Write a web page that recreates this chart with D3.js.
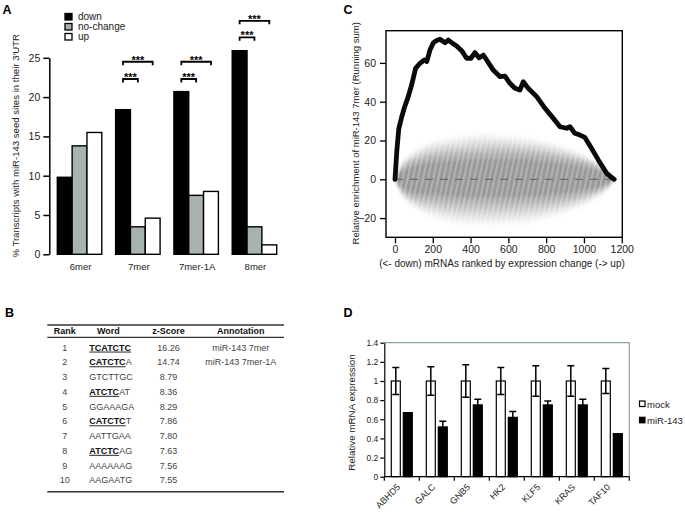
<!DOCTYPE html>
<html><head><meta charset="utf-8">
<script src="https://cdn.jsdelivr.net/npm/d3@7"></script>
<style>body{margin:0;background:#fff}svg{display:block;font-family:"Liberation Sans",Arial,sans-serif}</style>
</head><body><svg id="c" width="685" height="517"></svg>
<script>
// ---------- Panel A data ----------
const aCategories = ["6mer", "7mer", "7mer-1A", "8mer"];
const aSeries = ["down", "no-change", "up"];
const aDown = [9.8, 18.4, 20.7, 25.9];
const aNoChange = [13.8, 3.5, 7.5, 3.5];
const aUp = [15.5, 4.6, 8.0, 1.2];
const aTicks = [0, 5, 10, 15, 20, 25];
const aSigCats = ["7mer", "7mer", "7mer-1A", "7mer-1A", "8mer", "8mer"];
const aSigTo = ["no-change", "up", "no-change", "up", "no-change", "up"];
const aSigLevel = [22.3, 24.5, 22.3, 24.5, 27.6, 29.7];
const aSigText = ["***", "***", "***", "***", "***", "***"];

// ---------- Panel B data ----------
const bHeaders = ["Rank", "Word", "z-Score", "Annotation"];
const bRanks = ["1", "2", "3", "4", "5", "6", "7", "8", "9", "10"];
const bWords = ["TCATCTC", "CATCTCA", "GTCTTGC", "ATCTCAT", "GGAAAGA", "CATCTCT", "AATTGAA", "ATCTCAG", "AAAAAAG", "AAGAATG"];
const bSeedLen = [7, 6, 0, 5, 0, 6, 0, 5, 0, 0];
const bZScores = ["16.26", "14.74", "8.79", "8.36", "8.29", "7.86", "7.80", "7.63", "7.56", "7.55"];
const bAnnotations = ["miR-143 7mer", "miR-143 7mer-1A", "", "", "", "", "", "", "", ""];

// ---------- Panel C data ----------
const cRank = [0, 10, 20, 35, 50, 70, 88, 109, 132, 155, 168, 185, 203, 220, 238, 265, 282, 300, 326, 353, 379, 402, 423, 446, 467, 485, 520, 556, 582, 608, 635, 661, 679, 705, 750, 794, 838, 873, 908, 926, 952, 979, 1005, 1040, 1076, 1120, 1160];
const cRunSum = [0, 15, 26, 32, 37, 42.6, 48.6, 57.2, 59.8, 61.5, 60.7, 66.6, 70.4, 71.5, 72.2, 70.4, 71.8, 70.4, 68.7, 66.3, 62.4, 62.4, 65.3, 62.6, 64, 61.5, 56.3, 52.9, 53.2, 49.5, 46.9, 46, 50.3, 46.9, 42.6, 36.6, 31.4, 27.1, 26.3, 27.1, 23.7, 22.8, 21.6, 16, 10, 3.1, 0];
const cCloudRank = [0, 25, 50, 100, 150, 200, 300, 400, 500, 600, 700, 800, 900, 1000, 1050, 1100, 1140, 1160];
const cCoreHi = [0, 4, 6, 8.5, 10, 11, 12, 12.5, 13, 13, 12.5, 11.5, 10, 8, 6.5, 4.5, 2, 0];
const cCoreLo = [0, -4, -6, -8.5, -9.5, -10, -11, -11.5, -11.5, -11.5, -11, -10.5, -9, -7, -6, -4, -2, 0];
const cOuterHi = [0, 7, 11, 15, 18, 20, 22, 23.5, 24, 23, 22, 20, 17, 13, 10.5, 7, 3.5, 0];
const cOuterLo = [0, -7, -11, -15, -18, -20, -23, -24, -24.5, -24, -23, -21, -18, -14, -11, -8, -4, 0];
const cXTicks = [0, 200, 400, 600, 800, 1000, 1200];
const cYTicks = [-20, 0, 20, 40, 60];

// ---------- Panel D data ----------
const dGenes = ["ABHD5", "GALC", "GNB5", "HK2", "KLF5", "KRAS", "TAF10"];
const dSeries = ["mock", "miR-143"];
const dMock = [1, 1, 1, 1, 1, 1, 1];
const dMockErr = [0.14, 0.15, 0.17, 0.14, 0.16, 0.16, 0.13];
const dMir = [0.67, 0.52, 0.75, 0.62, 0.75, 0.75, 0.45];
const dMirErr = [0, 0.06, 0.06, 0.06, 0.04, 0.06, 0];
const dTicks = [0, 0.2, 0.4, 0.6, 0.8, 1, 1.2, 1.4];
const dTickLabels = ["0", "0.2", "0.4", "0.6", "0.8", "1", "1.2", "1.4"];

const svg = d3.select("#c");
svg.append("rect").attr("width", 685).attr("height", 517).attr("fill", "#fff");
const defs = svg.append("defs");

// panel letters
const panelLetters = ["A", "B", "C", "D"];
const letterPos = [[2.5, 14], [5, 316.5], [343.5, 13.5], [343.5, 316.5]];
svg.selectAll("text.plabel").data(panelLetters).join("text").attr("class", "plabel")
  .attr("x", (d, i) => letterPos[i][0]).attr("y", (d, i) => letterPos[i][1])
  .attr("font-size", 12.5).attr("font-weight", "bold").text(d => d);

function styleAxis(g, fs, sw) {
  g.selectAll("path.domain").attr("stroke", "#000").attr("stroke-width", sw);
  g.selectAll(".tick line").attr("stroke", "#000").attr("stroke-width", sw);
  g.selectAll(".tick text").attr("fill", "#222").attr("font-size", fs).attr("font-family", "Liberation Sans, Arial, sans-serif");
}

// ================= Panel A =================
{
  const g = svg.append("g");
  const y = d3.scaleLinear().domain([0, 25]).range([254.3, 57.8]);
  const x = d3.scaleBand().domain(aCategories).range([50.4, 283.6]).paddingInner(0.237).paddingOuter(0.1185);
  const xs = d3.scaleBand().domain(aSeries).range([0, x.bandwidth()]);
  const fills = {"down": "#000", "no-change": "#a8b3b0", "up": "#fff"};
  const vals = {"down": aDown, "no-change": aNoChange, "up": aUp};
  const bars = aCategories.flatMap((c, i) => aSeries.map(s => ({c, s, v: vals[s][i]})));
  g.selectAll("rect.bar").data(bars).join("rect").attr("class", "bar")
    .attr("x", d => x(d.c) + xs(d.s)).attr("width", xs.bandwidth())
    .attr("y", d => y(d.v)).attr("height", d => y(0) - y(d.v))
    .attr("fill", d => fills[d.s]).attr("stroke", "#000").attr("stroke-width", 1.4);

  const ax = g.append("g").attr("transform", "translate(49.3,0)")
    .call(d3.axisLeft(y).tickValues(aTicks).tickSize(6).tickSizeOuter(0).tickPadding(3));
  styleAxis(ax, 10.5, 1.5);

  g.selectAll("text.xl").data(aCategories).join("text").attr("class", "xl")
    .attr("x", d => x(d) + x.bandwidth() / 2 + 1).attr("y", 270)
    .attr("text-anchor", "middle").attr("font-size", 9.5).attr("fill", "#222").text(d => d);

  g.append("text").attr("transform", "translate(18.5,145.8) rotate(-90)")
    .attr("text-anchor", "middle").attr("font-size", 9.6).attr("fill", "#222")
    .text("% Transcripts with miR-143 seed sites in their 3'UTR");

  // legend
  const lg = g.selectAll("g.leg").data(aSeries).join("g").attr("class", "leg")
    .attr("transform", (d, i) => `translate(65,${13.5 + i * 10})`);
  lg.append("rect").attr("width", 7).attr("height", 6.5).attr("fill", d => fills[d])
    .attr("stroke", "#000").attr("stroke-width", 1.3);
  lg.append("text").attr("x", 13).attr("y", 6.8).attr("font-size", 10).attr("fill", "#222").text(d => d);

  // significance brackets
  const sig = aSigCats.map((c, i) => ({c, to: aSigTo[i], lvl: aSigLevel[i], t: aSigText[i]}));
  sig.forEach(d => {
    const x1 = x(d.c) + xs("down") + xs.bandwidth() / 2;
    const x2 = x(d.c) + xs(d.to) + xs.bandwidth() / 2;
    const yy = y(d.lvl);
    g.append("path").attr("d", `M${x1},${yy + 3.5}V${yy}H${x2}V${yy + 3.5}`)
      .attr("fill", "none").attr("stroke", "#000").attr("stroke-width", 1.8);
    g.append("text").attr("x", (x1 + x2) / 2).attr("y", yy + 1.8).attr("text-anchor", "middle")
      .attr("font-size", 11).attr("font-weight", "bold").text(d.t);
  });
}

// ================= Panel B =================
{
  const g = svg.append("g");
  const colX = [64.7, 108.3, 168.5, 240.7];
  const left = 47.3, right = 284;
  g.append("line").attr("x1", left).attr("x2", right).attr("y1", 325).attr("y2", 325).attr("stroke", "#333").attr("stroke-width", 1.5);
  g.append("line").attr("x1", left).attr("x2", right).attr("y1", 337.3).attr("y2", 337.3).attr("stroke", "#333").attr("stroke-width", 1.2);
  g.append("line").attr("x1", left).attr("x2", right).attr("y1", 491.7).attr("y2", 491.7).attr("stroke", "#333").attr("stroke-width", 1.6);
  g.selectAll("text.hdr").data(bHeaders).join("text").attr("class", "hdr")
    .attr("x", (d, i) => colX[i]).attr("y", 334.3).attr("text-anchor", "middle")
    .attr("font-size", 9).attr("font-weight", "bold").attr("fill", "#111").text(d => d);
  const rowY = i => 350.6 + i * 14.75;
  g.selectAll("text.rank").data(bRanks).join("text").attr("class", "rank")
    .attr("x", colX[0]).attr("y", (d, i) => rowY(i)).attr("text-anchor", "middle")
    .attr("font-size", 9).attr("fill", "#444").text(d => d);
  g.selectAll("text.z").data(bZScores).join("text").attr("class", "z")
    .attr("x", colX[2]).attr("y", (d, i) => rowY(i)).attr("text-anchor", "middle")
    .attr("font-size", 9).attr("fill", "#444").text(d => d);
  g.selectAll("text.ann").data(bAnnotations).join("text").attr("class", "ann")
    .attr("x", colX[3]).attr("y", (d, i) => rowY(i)).attr("text-anchor", "middle")
    .attr("font-size", 9).attr("fill", "#444").text(d => d);
  bWords.forEach((w, i) => {
    const t = g.append("text").attr("x", 89.3).attr("y", rowY(i)).attr("font-size", 9).attr("fill", "#444");
    const n = bSeedLen[i];
    if (n > 0) {
      t.append("tspan").attr("font-weight", "bold").attr("fill", "#111")
        .attr("text-decoration", "underline").style("text-decoration", "underline").text(w.slice(0, n));
    }
    if (n < w.length) t.append("tspan").text(w.slice(n));
  });
}

// ================= Panel C =================
{
  const g = svg.append("g");
  const x = d3.scaleLinear().domain([-47.6, 1203]).range([386, 622.3]);
  const y = d3.scaleLinear().domain([-29.9, 76.6]).range([237.3, 30.7]);

  // permutation cloud
  const pts = cCloudRank.map((r, i) => ({r, ch: cCoreHi[i], cl: cCoreLo[i], oh: cOuterHi[i], ol: cOuterLo[i]}));
  const blur = defs.append("filter").attr("id", "cblur").attr("x", "-10%").attr("y", "-20%").attr("width", "120%").attr("height", "140%");
  blur.append("feGaussianBlur").attr("stdDeviation", 1.6);
  const streak = defs.append("pattern").attr("id", "streak").attr("patternUnits", "userSpaceOnUse")
    .attr("width", 5).attr("height", 40).attr("patternTransform", "rotate(12)");
  streak.append("rect").attr("width", 5).attr("height", 40).attr("fill", "#fff").attr("fill-opacity", 0);
  streak.append("rect").attr("x", 0).attr("width", 1.6).attr("height", 40).attr("fill", "#fff").attr("fill-opacity", 0.3);
  const outerArea = d3.area().curve(d3.curveCatmullRom).x(d => x(d.r)).y0(d => y(d.ol)).y1(d => y(d.oh));
  defs.append("clipPath").attr("id", "cloudclip").append("path").datum(pts).attr("d", outerArea);

  const cg = g.append("g").attr("filter", "url(#cblur)");
  const nLayers = 7;
  for (let k = 0; k < nLayers; k++) {
    const t = k / (nLayers - 1);
    const area = d3.area().curve(d3.curveCatmullRom)
      .x(d => x(d.r))
      .y0(d => y(d.ol + (d.cl - d.ol) * t))
      .y1(d => y(d.oh + (d.ch - d.oh) * t));
    cg.append("path").datum(pts).attr("d", area).attr("fill", "#808080").attr("fill-opacity", 0.06 + 0.03 * k);
  }
  const core = d3.area().curve(d3.curveCatmullRom).x(d => x(d.r)).y0(d => y(d.cl * 0.8)).y1(d => y(d.ch * 0.8));
  cg.append("path").datum(pts).attr("d", core).attr("fill", "#808080").attr("fill-opacity", 0.4);
  g.append("rect").attr("x", 386).attr("y", 30.7).attr("width", 236).attr("height", 206)
    .attr("fill", "url(#streak)").attr("clip-path", "url(#cloudclip)");

  // zero dashed line
  g.append("line").attr("x1", x(0)).attr("x2", x(1160)).attr("y1", y(0)).attr("y2", y(0))
    .attr("stroke", "#6e6e6e").attr("stroke-width", 1.3).attr("stroke-dasharray", "8,7");

  // running sum
  const line = d3.line().x((d, i) => x(cRank[i])).y(d => y(d));
  g.append("path").datum(cRunSum).attr("d", line).attr("fill", "none")
    .attr("stroke", "#0a0a0a").attr("stroke-width", 4.8).attr("stroke-linejoin", "round").attr("stroke-linecap", "round");

  // box
  g.append("rect").attr("x", 386).attr("y", 30.7).attr("width", 622.3 - 386).attr("height", 237.3 - 30.7)
    .attr("fill", "none").attr("stroke", "#000").attr("stroke-width", 1.4);

  const ax = g.append("g").attr("transform", "translate(0,237.3)")
    .call(d3.axisBottom(x).tickValues(cXTicks).tickSize(6).tickSizeOuter(0).tickPadding(2.5).tickFormat(d3.format("d")));
  ax.select("path.domain").remove();
  styleAxis(ax, 10.5, 1.3);
  const ay = g.append("g").attr("transform", "translate(386,0)")
    .call(d3.axisLeft(y).tickValues(cYTicks).tickSize(6).tickSizeOuter(0).tickPadding(4).tickFormat(d => d < 0 ? "\u2212" + Math.abs(d) : d));
  ay.select("path.domain").remove();
  styleAxis(ay, 10.5, 1.3);

  g.append("text").attr("x", 502).attr("y", 266.5).attr("text-anchor", "middle").attr("font-size", 10).attr("fill", "#222")
    .text("(<- down) mRNAs ranked by expression change (-> up)");
  g.append("text").attr("transform", "translate(358.5,133.3) rotate(-90)").attr("text-anchor", "middle")
    .attr("font-size", 9.5).attr("fill", "#222").text("Relative enrichment of miR-143 7mer (Running sum)");
}

// ================= Panel D =================
{
  const g = svg.append("g");
  const y = d3.scaleLinear().domain([0, 1.4]).range([476.7, 342.7]);
  const x = d3.scaleBand().domain(dGenes).range([384.3, 629.3]);
  const xs = d3.scaleBand().domain(dSeries).range([7, 28]).paddingInner(0.25);
  const rows = dGenes.map((gname, i) => [
    {g: gname, s: "mock", v: dMock[i], e: dMockErr[i]},
    {g: gname, s: "miR-143", v: dMir[i], e: dMirErr[i]}
  ]).flat();

  // frame (top/right grey)
  g.append("path").attr("d", `M384.3,${y(1.4)}H629.3V${y(0)}`).attr("fill", "none").attr("stroke", "#8fa0a0").attr("stroke-width", 1.2);

  g.selectAll("rect.b").data(rows).join("rect").attr("class", "b")
    .attr("x", d => x(d.g) + xs(d.s)).attr("width", xs.bandwidth())
    .attr("y", d => y(d.v)).attr("height", d => y(0) - y(d.v))
    .attr("fill", d => d.s === "mock" ? "#fff" : "#000").attr("stroke", "#000").attr("stroke-width", 1.2);

  rows.filter(d => d.e > 0).forEach(d => {
    const cx = x(d.g) + xs(d.s) + xs.bandwidth() / 2;
    const yt = y(d.v + d.e), yb = y(d.v - d.e);
    g.append("path").attr("d", `M${cx},${yb}V${yt}M${cx - 3.5},${yt}H${cx + 3.5}M${cx - 3.5},${yb}H${cx + 3.5}`)
      .attr("stroke", "#000").attr("stroke-width", 1.5).attr("fill", "none");
  });

  const ay = g.append("g").attr("transform", "translate(384.3,0)")
    .call(d3.axisLeft(y).tickValues(dTicks).tickSize(4).tickSizeOuter(0).tickPadding(2).tickFormat((d, i) => dTickLabels[i]));
  styleAxis(ay, 8.5, 1.2);

  // x axis line + boundary ticks
  const bounds = d3.range(dGenes.length + 1).map(i => 384.3 + i * x.step());
  g.append("line").attr("x1", 384.3).attr("x2", 629.3).attr("y1", y(0)).attr("y2", y(0)).attr("stroke", "#000").attr("stroke-width", 1.2);
  g.selectAll("line.bt").data(bounds).join("line").attr("class", "bt")
    .attr("x1", d => d).attr("x2", d => d).attr("y1", y(0)).attr("y2", y(0) + 4).attr("stroke", "#000").attr("stroke-width", 1.2);

  g.selectAll("text.gl").data(dGenes).join("text").attr("class", "gl")
    .attr("transform", d => `translate(${x(d) + x.bandwidth() / 2 - 1},${y(0) + 11}) rotate(-45)`)
    .attr("text-anchor", "end").attr("font-size", 9).attr("fill", "#222").text(d => d);

  g.append("text").attr("transform", "translate(355,412.5) rotate(-90)").attr("text-anchor", "middle")
    .attr("font-size", 9.8).attr("fill", "#222").text("Relative mRNA expression");

  const lg = g.selectAll("g.dl").data(dSeries).join("g").attr("class", "dl")
    .attr("transform", (d, i) => `translate(639.5,${401 + i * 16.3})`);
  lg.append("rect").attr("width", 5.5).attr("height", 5.5).attr("fill", d => d === "mock" ? "#fff" : "#000")
    .attr("stroke", "#000").attr("stroke-width", 1.2);
  lg.append("text").attr("x", 7.5).attr("y", 6.5).attr("font-size", 9.5).attr("fill", "#222").text(d => d);
}
</script></body></html>
